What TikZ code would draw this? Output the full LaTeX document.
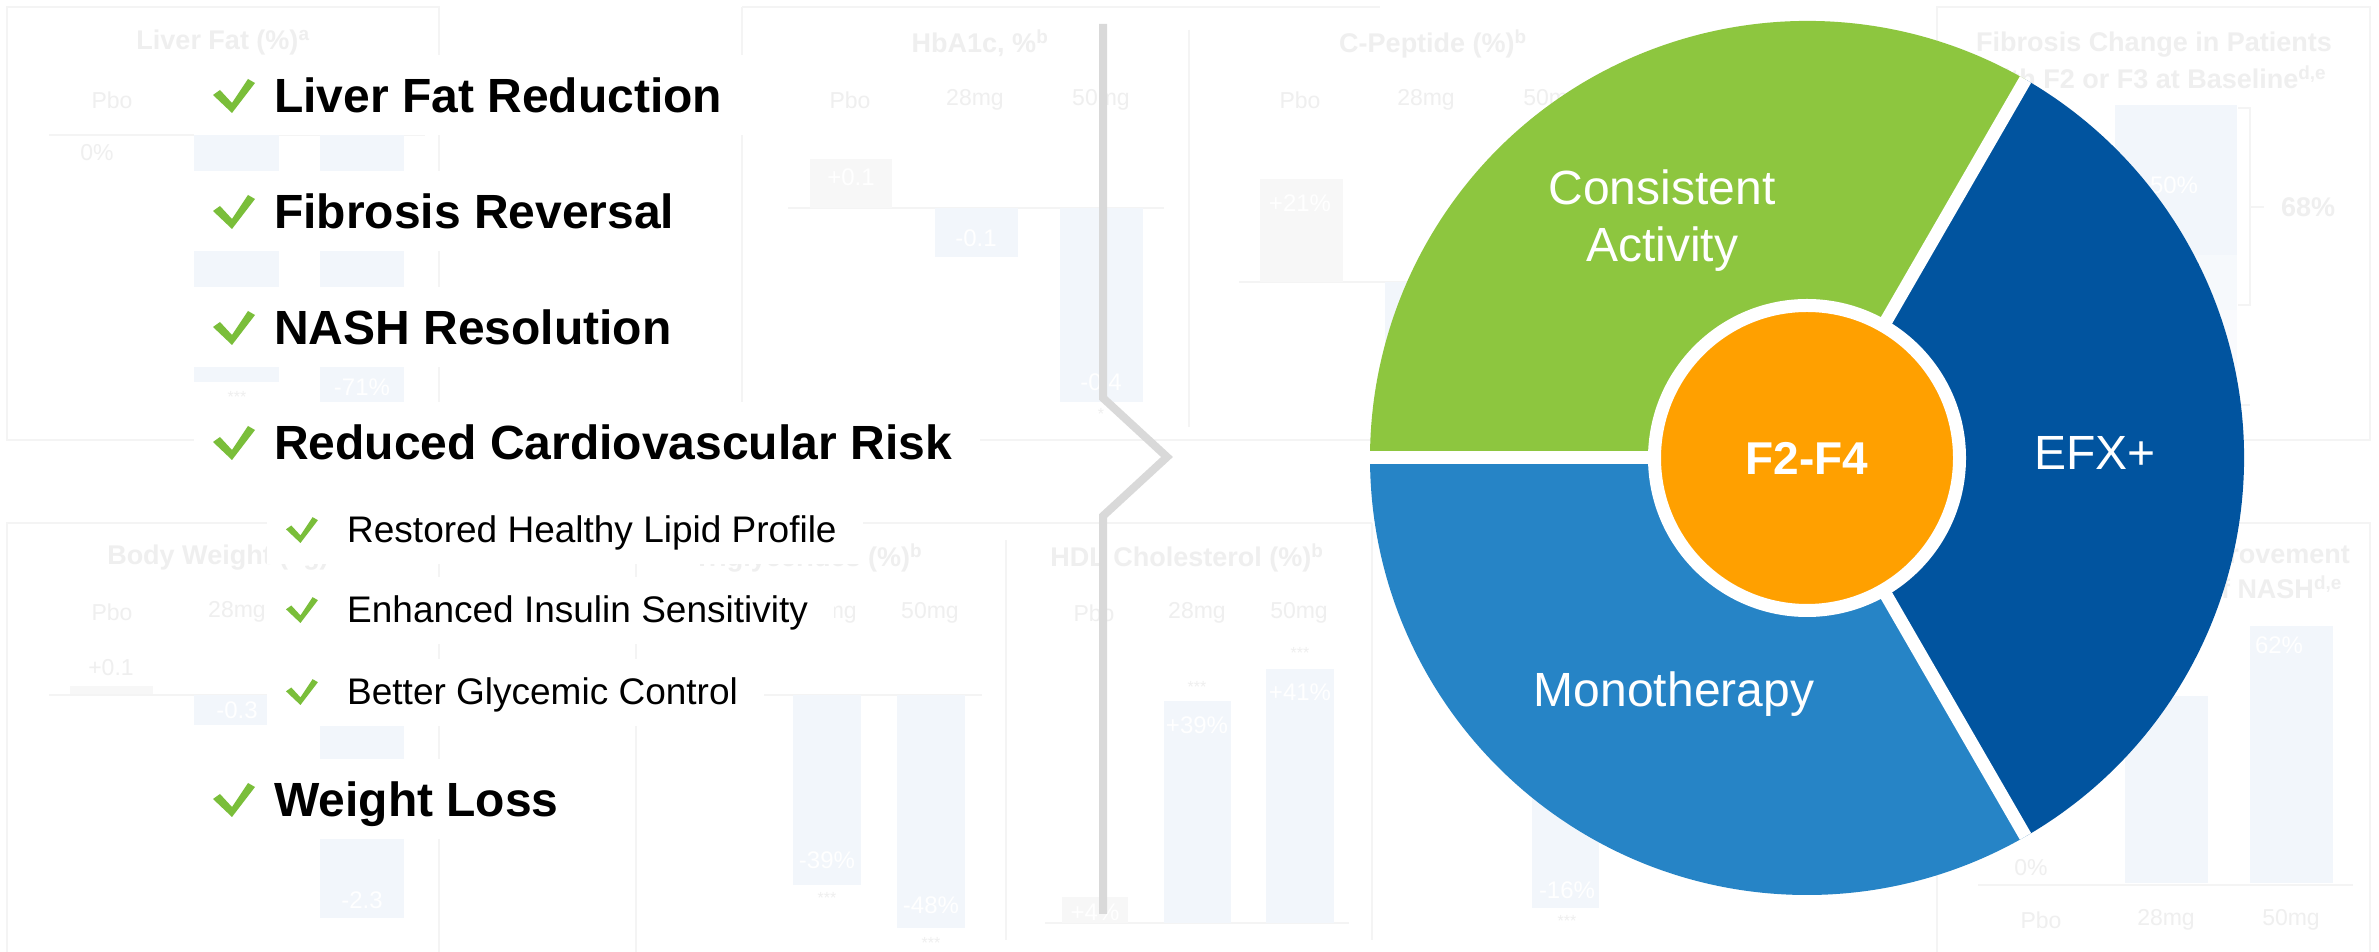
\documentclass[tikz,border=0pt]{standalone}
\usepackage{fontspec}
\setmainfont{Liberation Sans}
\usetikzlibrary{calc}

\definecolor{ckgreen}{RGB}{122,190,58}
\definecolor{segGreen}{RGB}{141,198,63}
\definecolor{segDark}{RGB}{1,84,159}
\definecolor{segMid}{RGB}{38,132,198}
\definecolor{coreOrange}{RGB}{255,160,0}
\definecolor{chevGray}{RGB}{217,217,217}
\definecolor{fline}{RGB}{244,244,244}
\definecolor{fbar}{RGB}{242,246,251}
\definecolor{fgbar}{RGB}{247,247,247}
\definecolor{ftext}{RGB}{239,239,239}

\pgfdeclarelayer{chart}
\pgfdeclarelayer{mask}
\pgfsetlayers{chart,mask,main}

\tikzset{
  ptitle/.style={text=ftext,font=\bfseries\fontsize{27}{31}\selectfont,inner sep=0pt},
  plab/.style={text=ftext,font=\fontsize{23}{26}\selectfont,inner sep=0pt},
  pval/.style={text=white,font=\fontsize{24}{26}\selectfont,inner sep=0pt},
  pstar/.style={text=ftext,font=\fontsize{16}{18}\selectfont,inner sep=0pt},
  pbar/.style={fill=fbar},
  pgbar/.style={fill=fgbar},
  pline/.style={draw=fline,line width=1.5pt},
  mainitem/.style={anchor=base west,inner sep=0pt,font=\bfseries\fontsize{48}{56}\selectfont},
  subitem/.style={anchor=base west,inner sep=0pt,font=\fontsize{37}{44}\selectfont},
  seglabel/.style={text=white,font=\fontsize{48}{57}\selectfont,align=center,inner sep=0pt},
  chev/.style={draw=chevGray,line width=8pt,line join=miter},
  gap/.style={draw=white,line width=13pt},
  tick/.pic={\fill[ckgreen] (0,18) -- (7,23) -- (19,10) -- (35,34) -- (42,30) -- (19,0) -- cycle;},
}

\begin{document}
\begin{tikzpicture}[x=1pt,y=1pt]
\useasboundingbox (0,0) rectangle (2379,952);

% ---------- faded chart panels behind everything ----------
\begin{pgfonlayer}{chart}
\fill[white] (0,0) rectangle (2379,952);
% panel frames
\draw[pline] (7,945) rectangle (439,512);
\draw[pline] (742,945) -- (1380,945);
\draw[pline] (742,945) -- (742,550);
\draw[pline] (1189,922) -- (1189,525);
\draw[pline] (742,512) -- (1380,512);
\draw[pline] (1937,945) rectangle (2370,512);
\draw[pline] (7,0) -- (7,429) -- (439,429) -- (439,0);
\draw[pline] (636,0) -- (636,392);
\draw[pline] (636,429) -- (1372,429);
\draw[pline] (1006,12) -- (1006,412);
\draw[pline] (1372,12) -- (1372,429);
\draw[pline] (1937,0) -- (1937,429) -- (2370,429) -- (2370,0);

% liver fat
\node[ptitle] (lfT) at (223,909) {Liver Fat (\%)\textsuperscript{a}};
\node[plab] (lfP) at (112,852) {Pbo};
\draw[pline] (49,817) -- (425,817);
\node[plab] (lf0) at (97,799) {0\%};
\fill[pbar] (194,817) rectangle (279,570);
\node[pstar] (lfS) at (237,555) {***};
\fill[pbar] (320,817) rectangle (404,550);
\node[pval] (lfV) at (362,565) {-71\%};

% HbA1c
\node[ptitle] (hbT) at (980,909) {HbA1c, \%\textsuperscript{b}};
\node[plab] (hbP) at (850,852) {Pbo};
\node[plab] (hb28) at (975,852) {28mg};
\node[plab] (hb50) at (1101,852) {50mg};
\draw[pline] (788,744) -- (1164,744);
\fill[pgbar] (810,793) rectangle (892,744);
\node[pval] (hbV1) at (851,775) {+0.1};
\fill[pbar] (935,744) rectangle (1018,695);
\node[pval] (hbV2) at (976,714) {-0.1};
\fill[pbar] (1060,744) rectangle (1143,550);
\node[pval] (hbV3) at (1101,570) {-0.4};
\node[pstar] (hbS) at (1101,538) {*};

% C-peptide
\node[ptitle] (cpT) at (1433,908) {C-Peptide (\%)\textsuperscript{b}};
\node[plab] (cpP) at (1300,852) {Pbo};
\node[plab] (cp28) at (1426,852) {28mg};
\node[plab] (cp50) at (1552,852) {50mg};
\draw[pline] (1239,670) -- (1430,670);
\fill[pgbar] (1260,773) rectangle (1343,670);
\node[pval] (cpV) at (1300,749) {+21\%};
\fill[pbar] (1385,670) rectangle (1468,530);

% fibrosis change
\node[ptitle] (fcT1) at (2154,907) {Fibrosis Change in Patients};
\node[ptitle] (fcT2) at (2154,875) {with F2 or F3 at Baseline\textsuperscript{d,e}};
\fill[fbar] (2115,847) rectangle (2237,697);
\fill[fbar!70!white] (2115,697) rectangle (2237,642);
\fill[fbar!50!white] (2115,642) rectangle (2237,547);
\node[pval] (fcV) at (2174,767) {50\%};
\draw[pline] (2238,844) -- (2250,844) -- (2250,647) -- (2238,647);
\draw[pline] (2250,745) -- (2264,745);
\node[ptitle] (fcS) at (2308,745) {68\%};
\draw[pline] (1978,547) -- (2250,547);

% body weight
\node[ptitle] (bwT) at (218,394) {Body Weight (kg)};
\node[plab] (bwP) at (112,340) {Pbo};
\node[plab] (bw28) at (237,340) {28mg};
\node[plab] (bwV1) at (111,284) {+0.1};
\fill[pgbar] (70,266) rectangle (153,257);
\draw[pline] (49,257) -- (425,257);
\fill[pbar] (194,257) rectangle (279,227);
\node[pval] (bwV2) at (237,242) {-0.3};
\fill[pbar] (320,257) rectangle (404,34);
\node[pval] (bwV3) at (362,52) {-2.3};

% triglycerides
\node[ptitle] (tgT) at (808,394) {Triglycerides (\%)\textsuperscript{b}};
\node[plab] (tg28) at (828,339) {28mg};
\node[plab] (tg50) at (930,339) {50mg};
\draw[pline] (764,257) -- (982,257);
\fill[pbar] (793,257) rectangle (861,67);
\node[pval] (tgV1) at (827,92) {-39\%};
\node[pstar] (tgS1) at (827,54) {***};
\fill[pbar] (897,257) rectangle (965,24);
\node[pval] (tgV2) at (931,47) {-48\%};
\node[pstar] (tgS2) at (931,9) {***};

% HDL cholesterol
\node[ptitle] (hdT) at (1187,394) {HDL Cholesterol (\%)\textsuperscript{b}};
\node[plab] (hdP) at (1094,339) {Pbo};
\node[plab] (hd28) at (1197,339) {28mg};
\node[plab] (hd50) at (1299,339) {50mg};
\draw[pline] (1045,29) -- (1349,29);
\fill[pgbar] (1062,55) rectangle (1128,29);
\node[pval] (hdV1) at (1095,40) {+4\%};
\fill[pbar] (1164,251) rectangle (1231,29);
\node[pval] (hdV2) at (1197,227) {+39\%};
\node[pstar] (hdS2) at (1197,265) {***};
\fill[pbar] (1266,283) rectangle (1334,29);
\node[pval] (hdV3) at (1300,260) {+41\%};
\node[pstar] (hdS3) at (1300,299) {***};

% lower middle panel
\fill[pbar] (1532,200) rectangle (1599,44);
\node[pval] (ldV) at (1567,62) {-16\%};
\node[pstar] (ldS) at (1567,31) {***};

% NASH improvement
\node[ptitle,anchor=east] (niT1) at (2350,395) {Improvement};
\node[ptitle,anchor=east] (niT2) at (2342,365) {of NASH\textsuperscript{d,e}};
\fill[pbar] (2125,256) rectangle (2208,69);
\fill[pbar] (2250,326) rectangle (2333,69);
\node[pval] (niV) at (2279,307) {62\%};
\node[plab] (ni0) at (2031,84) {0\%};
\draw[pline] (1978,67) -- (2353,67);
\node[plab] (niP) at (2041,32) {Pbo};
\node[plab] (ni28) at (2166,32) {28mg};
\node[plab] (ni50) at (2291,32) {50mg};
\end{pgfonlayer}

% ---------- benefit list ----------
\node[mainitem] (i1) at (274,839) {Liver Fat Reduction};
\node[mainitem] (i2) at (274,723) {Fibrosis Reversal};
\node[mainitem] (i3) at (274,607) {NASH Resolution};
\node[mainitem] (i4) at (274,492) {Reduced Cardiovascular Risk};
\node[subitem] (i5) at (347,409) {Restored Healthy Lipid Profile};
\node[subitem] (i6) at (347,329) {Enhanced Insulin Sensitivity};
\node[subitem] (i7) at (347,247) {Better Glycemic Control};
\node[mainitem] (i8) at (274,135) {Weight Loss};

\foreach \n in {i1,i2,i3,i4,i8}
  \pic at ($(\n.base west)+(-61,0)$) {tick};
\foreach \n in {i5,i6,i7}
  \pic[scale=0.76] at ($(\n.base west)+(-61,0)$) {tick};

\begin{pgfonlayer}{mask}
\foreach \n in {i1,i2,i3,i4,i8}
  \fill[white] ($(\n.base west)+(-80,-22)$) rectangle ($(\n.base east)+(28,58)$);
\foreach \n in {i5,i6,i7}
  \fill[white] ($(\n.base west)+(-80,-21)$) rectangle ($(\n.base east)+(26,46)$);
\end{pgfonlayer}

% ---------- divider chevron ----------
\coordinate (cvTop) at (1103,928);
\coordinate (cvA) at (1103,554);
\coordinate (cvTip) at (1167,495);
\coordinate (cvB) at (1103,436);
\coordinate (cvBot) at (1103,38);
\draw[chev] (cvTop) -- (cvA) -- (cvTip) -- (cvB) -- (cvBot);

% ---------- segmented ring ----------
\coordinate (C) at (1807,494);
\fill[segGreen] (C) -- ++(60:437) arc[start angle=60,end angle=180,radius=437] -- cycle;
\fill[segMid] (C) -- ++(180:437) arc[start angle=180,end angle=300,radius=437] -- cycle;
\fill[segDark] (C) -- ++(-60:437) arc[start angle=-60,end angle=60,radius=437] -- cycle;
\draw[gap] (C) -- ++(60:437);
\draw[gap] (C) -- ++(180:437);
\draw[gap] (C) -- ++(300:437);

\node[circle,fill=coreOrange,draw=white,line width=13pt,minimum size=305pt,inner sep=0pt,
      text=white,font=\bfseries\fontsize{46}{52}\selectfont] (core) at (C) {F2-F4};

\node[seglabel] (lblA) at (1662,731) {Consistent\\Activity};
\node[seglabel,anchor=base] (lblE) at (2095,482) {EFX+};
\node[seglabel,anchor=base] (lblM) at (1674,245) {Monotherapy};
\end{tikzpicture}
\end{document}
